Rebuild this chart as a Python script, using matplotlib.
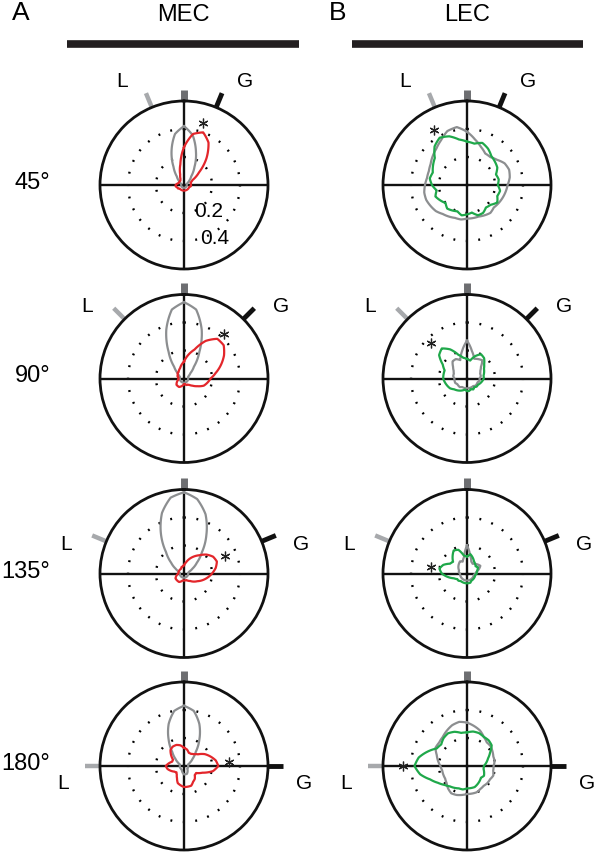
import numpy as np
import matplotlib
matplotlib.use("Agg")
import matplotlib.pyplot as plt
from matplotlib.lines import Line2D

plt.rcParams["font.family"] = ["Liberation Sans", "DejaVu Sans"]

# направления (град, по часовой от "вверх"), шаг 10
ANGLES = np.arange(0, 360, 10)

conditions = ["45°", "90°", "135°", "180°"]
separations = [45, 90, 135, 180]

# MEC: серая кривая (стандарт) и красная (после поворота)
mec_gray = [
    [0.42, 0.36, 0.25, 0.15, 0.08, 0.05, 0.03, 0.02, 0.02, 0.02, 0.02, 0.02,
     0.02, 0.02, 0.02, 0.02, 0.02, 0.02, 0.02, 0.02, 0.02, 0.02, 0.02, 0.02,
     0.02, 0.02, 0.02, 0.02, 0.02, 0.02, 0.03, 0.05, 0.08, 0.15, 0.26, 0.37],
    [0.545, 0.50, 0.37, 0.22, 0.11, 0.06, 0.04, 0.03, 0.03, 0.03, 0.03, 0.03,
     0.03, 0.03, 0.03, 0.03, 0.03, 0.03, 0.03, 0.03, 0.03, 0.03, 0.03, 0.03,
     0.03, 0.03, 0.03, 0.03, 0.03, 0.03, 0.04, 0.06, 0.11, 0.22, 0.37, 0.50],
    [0.58, 0.54, 0.45, 0.32, 0.20, 0.12, 0.07, 0.04, 0.03, 0.03, 0.03, 0.03,
     0.03, 0.03, 0.03, 0.03, 0.03, 0.03, 0.03, 0.03, 0.03, 0.03, 0.03, 0.03,
     0.03, 0.03, 0.03, 0.03, 0.03, 0.04, 0.07, 0.12, 0.20, 0.33, 0.46, 0.55],
    [0.43, 0.40, 0.32, 0.22, 0.13, 0.08, 0.05, 0.03, 0.03, 0.03, 0.03, 0.03,
     0.03, 0.03, 0.04, 0.05, 0.06, 0.06, 0.06, 0.05, 0.04, 0.03, 0.03, 0.03,
     0.03, 0.03, 0.03, 0.03, 0.03, 0.03, 0.05, 0.08, 0.13, 0.22, 0.32, 0.40],
]
mec_red = [
    [0.27, 0.37, 0.40, 0.35, 0.25, 0.14, 0.07, 0.05, 0.05, 0.05, 0.05, 0.04,
     0.04, 0.04, 0.04, 0.04, 0.04, 0.04, 0.04, 0.04, 0.04, 0.04, 0.04, 0.04,
     0.05, 0.05, 0.06, 0.06, 0.05, 0.04, 0.04, 0.04, 0.04, 0.05, 0.08, 0.15],
    [0.12, 0.17, 0.22, 0.31, 0.37, 0.37, 0.33, 0.28, 0.23, 0.19, 0.17, 0.15,
     0.11, 0.08, 0.06, 0.05, 0.05, 0.04, 0.04, 0.05, 0.06, 0.07, 0.07, 0.07,
     0.06, 0.05, 0.04, 0.04, 0.04, 0.05, 0.05, 0.06, 0.06, 0.07, 0.08, 0.10],
    [0.06, 0.08, 0.11, 0.14, 0.17, 0.21, 0.24, 0.25, 0.23, 0.20, 0.17, 0.14,
     0.11, 0.09, 0.07, 0.06, 0.05, 0.05, 0.05, 0.05, 0.06, 0.07, 0.07, 0.07,
     0.07, 0.06, 0.05, 0.04, 0.04, 0.04, 0.04, 0.04, 0.04, 0.04, 0.05, 0.05],
    [0.13, 0.12, 0.10, 0.10, 0.11, 0.13, 0.17, 0.20, 0.23, 0.245, 0.21, 0.14,
     0.10, 0.10, 0.12, 0.13, 0.15, 0.15, 0.15, 0.14, 0.13, 0.10, 0.08, 0.07,
     0.08, 0.10, 0.12, 0.13, 0.11, 0.09, 0.09, 0.12, 0.15, 0.16, 0.16, 0.15],
]

# LEC: серая и зелёная
lec_gray = [
    [0.38, 0.33, 0.29, 0.26, 0.26, 0.28, 0.31, 0.32, 0.31, 0.29, 0.28, 0.27,
     0.26, 0.25, 0.26, 0.25, 0.24, 0.24, 0.24, 0.25, 0.25, 0.26, 0.27, 0.29,
     0.30, 0.31, 0.31, 0.30, 0.29, 0.29, 0.30, 0.32, 0.34, 0.37, 0.41, 0.42],
    [0.27, 0.20, 0.15, 0.16, 0.17, 0.13, 0.11, 0.10, 0.10, 0.09, 0.09, 0.08,
     0.08, 0.08, 0.07, 0.07, 0.07, 0.07, 0.07, 0.07, 0.07, 0.07, 0.08, 0.08,
     0.08, 0.09, 0.09, 0.09, 0.10, 0.10, 0.11, 0.13, 0.16, 0.16, 0.14, 0.20],
    [0.20, 0.13, 0.09, 0.08, 0.09, 0.10, 0.11, 0.09, 0.07, 0.06, 0.05, 0.05,
     0.05, 0.05, 0.05, 0.05, 0.05, 0.05, 0.05, 0.05, 0.05, 0.05, 0.05, 0.05,
     0.05, 0.05, 0.05, 0.05, 0.06, 0.06, 0.07, 0.08, 0.09, 0.10, 0.09, 0.12],
    [0.31, 0.29, 0.27, 0.24, 0.22, 0.22, 0.21, 0.20, 0.20, 0.19, 0.19, 0.20,
     0.19, 0.19, 0.185, 0.19, 0.20, 0.20, 0.20, 0.21, 0.22, 0.225, 0.21, 0.19,
     0.18, 0.18, 0.18, 0.19, 0.21, 0.23, 0.26, 0.26, 0.27, 0.29, 0.31, 0.32],
]
lec_green = [
    [0.31, 0.30, 0.32, 0.30, 0.27, 0.26, 0.25, 0.22, 0.23, 0.22, 0.24, 0.23,
     0.25, 0.22, 0.21, 0.23, 0.23, 0.20, 0.21, 0.22, 0.20, 0.21, 0.22, 0.20,
     0.22, 0.24, 0.22, 0.25, 0.27, 0.26, 0.28, 0.30, 0.36, 0.39, 0.37, 0.33],
    [0.14, 0.13, 0.17, 0.20, 0.19, 0.16, 0.14, 0.13, 0.12, 0.12, 0.11, 0.10,
     0.09, 0.09, 0.08, 0.09, 0.08, 0.09, 0.09, 0.08, 0.09, 0.10, 0.11, 0.12,
     0.14, 0.15, 0.16, 0.17, 0.17, 0.17, 0.20, 0.26, 0.28, 0.24, 0.18, 0.15],
    [0.12, 0.14, 0.12, 0.10, 0.09, 0.08, 0.09, 0.08, 0.07, 0.07, 0.06, 0.06,
     0.06, 0.06, 0.06, 0.06, 0.07, 0.07, 0.07, 0.07, 0.07, 0.07, 0.07, 0.08,
     0.08, 0.10, 0.14, 0.18, 0.20, 0.18, 0.14, 0.13, 0.16, 0.19, 0.18, 0.13],
    [0.24, 0.25, 0.25, 0.24, 0.24, 0.23, 0.19, 0.16, 0.14, 0.12, 0.12, 0.13,
     0.14, 0.13, 0.14, 0.15, 0.16, 0.16, 0.16, 0.17, 0.17, 0.18, 0.19, 0.21,
     0.24, 0.28, 0.34, 0.375, 0.35, 0.30, 0.25, 0.24, 0.26, 0.27, 0.26, 0.24],
]

# звёздочки - направление пика (град) и радиус
mec_star_deg = [17, 42, 67, 85]
mec_star_r = [0.46, 0.425, 0.32, 0.32]
lec_star_deg = [-31, -46, -79, -90]
lec_star_r = [0.46, 0.36, 0.26, 0.46]

W, H = 596, 853
RPX = 84
col_cx = [184, 467]
row_cy = [186, 379.5, 574.5, 767]
RMAX = 0.6

GRAY = "#8c8e90"
RED = "#e3262b"
GREEN = "#1fa84a"


def closed(vals):
    # замыкаем кривую: последняя точка = первая, угол 360
    th = np.deg2rad(np.append(ANGLES, 360))
    return th, np.append(vals, vals[0])


def polar_line(ax, th, rr, **kw):
    # сегменты рисуются дугами в полярных координатах (как сетка matplotlib)
    line, = ax.plot(th, rr, **kw)
    line.get_path()._interpolation_steps = 12
    return line


def draw_panel(ax, sep, gray, other, color, sdeg, sr):
    ax.set_theta_zero_location("N")
    ax.set_theta_direction(-1)
    ax.set_ylim(0, RMAX)
    ax.set_xticks([])
    ax.set_yticks([])
    ax.grid(False)
    ax.spines["polar"].set_linewidth(2.0)
    ax.spines["polar"].set_color("#111111")

    # пунктирные окружности 0.2 и 0.4
    circ = np.linspace(0, 2 * np.pi, 361)
    for rr in (0.2, 0.4):
        ax.plot(circ, np.full_like(circ, rr), color="k", lw=1.7,
                linestyle=(0, (0.8, 4.5)))
    # крест
    for a in (0, 90, 180, 270):
        ax.plot([np.deg2rad(a)] * 2, [0, RMAX], color="#111111", lw=1.7)

    # метки снаружи
    ax.plot([0, 0], [RMAX, 0.68], color="#6d6e71", lw=5,
            solid_capstyle="butt", clip_on=False)
    ax.plot([np.deg2rad(-sep / 2)] * 2, [RMAX, 0.71], color="#a7a9ac",
            lw=3.2, solid_capstyle="butt", clip_on=False)
    ax.plot([np.deg2rad(sep / 2)] * 2, [RMAX, 0.71], color="#111111",
            lw=3.5, solid_capstyle="butt", clip_on=False)
    ax.text(np.deg2rad(-sep / 2 - 8), 0.87, "L", ha="center", va="center",
            fontsize=15)
    ax.text(np.deg2rad(sep / 2 + 8), 0.865, "G", ha="center", va="center",
            fontsize=15)

    th, rr = closed(gray)
    polar_line(ax, th, rr, color=GRAY, lw=1.6, zorder=4)
    th, rr = closed(other)
    polar_line(ax, th, rr, color=color, lw=1.6, zorder=5)
    ax.plot(np.deg2rad(sdeg), sr, marker=(6, 2, 0), ms=7, mec="#222222",
            mew=0.9, ls="none", zorder=6, clip_on=False)


fig = plt.figure(figsize=(W / 100, H / 100), dpi=100)

for i in range(4):
    for j in range(2):
        cx, cy = col_cx[j], row_cy[i]
        ax = fig.add_axes([(cx - RPX) / W, (H - cy - RPX) / H,
                           2 * RPX / W, 2 * RPX / H], projection="polar")
        ax.patch.set_alpha(0)
        if j == 0:
            draw_panel(ax, separations[i], mec_gray[i], mec_red[i], RED,
                       mec_star_deg[i], mec_star_r[i])
        else:
            draw_panel(ax, separations[i], lec_gray[i], lec_green[i], GREEN,
                       lec_star_deg[i], lec_star_r[i])
        if i == 0 and j == 0:
            ax.text(0.645, 0.35, "0.2", transform=ax.transAxes, ha="center",
                    va="center", fontsize=15)
            ax.text(0.68, 0.185, "0.4", transform=ax.transAxes, ha="center",
                    va="center", fontsize=15)
    fig.text(50 / W, 1 - (row_cy[i] - 3) / H, conditions[i], ha="right",
             va="center", fontsize=17)

# заголовки колонок
fig.text(21 / W, 1 - 13 / H, "A", ha="center", va="center", fontsize=19)
fig.text(338 / W, 1 - 13 / H, "B", ha="center", va="center", fontsize=19)
fig.text(183 / W, 1 - 15 / H, "MEC", ha="center", va="center", fontsize=17)
fig.text(467 / W, 1 - 15 / H, "LEC", ha="center", va="center", fontsize=17)
fig.add_artist(Line2D([67 / W, 299 / W], [1 - 45 / H] * 2, color="#231f20",
                      lw=5.5, solid_capstyle="butt"))
fig.add_artist(Line2D([352 / W, 583 / W], [1 - 45 / H] * 2, color="#231f20",
                      lw=5.5, solid_capstyle="butt"))

fig.savefig("out.png", dpi=100)
